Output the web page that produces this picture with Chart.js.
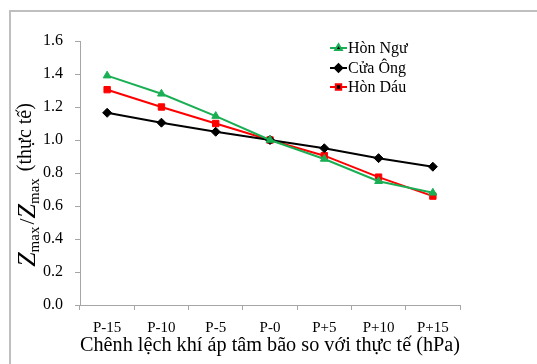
<!DOCTYPE html>
<html>
<head>
<meta charset="utf-8">
<script src="https://cdn.jsdelivr.net/npm/chart.js@4/dist/chart.umd.min.js"></script>
<style>
  html, body { margin: 0; padding: 0; background: #fff; }
  #wrap { width: 537px; height: 364px; position: relative; }
</style>
</head>
<body>
<div id="wrap"><canvas id="c" width="537" height="364"></canvas></div>
<script>
// Pressure offset scenarios (hPa relative to the observed central pressure)
const categories = ['P-15', 'P-10', 'P-5', 'P-0', 'P+5', 'P+10', 'P+15'];

// Ratio of peak surge to the observed peak surge at each station
const honNgu  = [1.39, 1.28, 1.145, 1.00, 0.885, 0.75, 0.68];
const cuaOng  = [1.165, 1.105, 1.05, 1.00, 0.95, 0.89, 0.838];
const honDau  = [1.305, 1.20, 1.10, 1.00, 0.905, 0.775, 0.66];

const seriesNames = ['Hòn Ngư', 'Cửa Ông', 'Hòn Dáu'];
const yTicks = [0, 0.2, 0.4, 0.6, 0.8, 1.0, 1.2, 1.4, 1.6];

const SERIF = "'Liberation Serif', 'Times New Roman', serif";
const AXIS_GREY = '#a6a6a6';

// Grey frame around the figure
const framePlugin = {
  id: 'frame',
  beforeDraw(chart) {
    const ctx = chart.ctx;
    ctx.save();
    ctx.fillStyle = '#fff';
    ctx.fillRect(0, 0, chart.width, chart.height);
    ctx.strokeStyle = '#bfbfbf';
    ctx.lineWidth = 2;
    ctx.beginPath();
    ctx.moveTo(10, chart.height + 5);
    ctx.lineTo(10, 11);
    ctx.lineTo(chart.width + 5, 11);
    ctx.stroke();
    ctx.restore();
  }
};

// Vertical axis title with subscripts: Z_max/Z_max (thực tế)
const yTitlePlugin = {
  id: 'yTitle',
  afterDraw(chart) {
    const ctx = chart.ctx;
    const big = 'italic 26px ' + SERIF;
    const slash = '22px ' + SERIF;
    const reg = '20px ' + SERIF;
    const sub = '15px ' + SERIF;
    const parts = [
      { t: 'Z', f: big, dy: 0, gap: 0 },
      { t: 'max', f: sub, dy: 4, gap: 2 },
      { t: '/', f: slash, dy: -1, gap: 0 },
      { t: 'Z', f: big, dy: 0, gap: 0 },
      { t: 'max', f: sub, dy: 4, gap: 2 },
      { t: ' (thực tế)', f: reg, dy: -4, gap: 0 }
    ];
    ctx.save();
    let total = 0;
    parts.forEach(p => {
      ctx.font = p.f;
      p.w = ctx.measureText(p.t).width;
      total += p.w + p.gap;
    });
    const cx = 35, cy = 185;
    ctx.translate(cx, cy);
    ctx.rotate(-Math.PI / 2);
    ctx.fillStyle = '#000';
    ctx.textBaseline = 'alphabetic';
    ctx.textAlign = 'left';
    let x = -total / 2;
    parts.forEach(p => {
      ctx.font = p.f;
      ctx.fillText(p.t, x, p.dy);
      x += p.w + p.gap;
    });
    ctx.restore();
  }
};

// Legend box inside the plot area
const legendPlugin = {
  id: 'innerLegend',
  afterDraw(chart) {
    const ctx = chart.ctx;
    const x0 = 330, x1 = 347, rows = [48, 68, 87];
    ctx.save();
    chart.data.datasets.forEach((ds, i) => {
      const y = rows[i];
      ctx.strokeStyle = ds.borderColor;
      ctx.lineWidth = 2;
      ctx.beginPath();
      ctx.moveTo(x0, y);
      ctx.lineTo(x1, y);
      ctx.stroke();
      Chart.helpers.drawPoint(ctx, {
        pointStyle: ds.pointStyle,
        radius: ds.pointRadius * 0.85,
        borderWidth: 1
      }, (x0 + x1) / 2, y);
      ctx.fillStyle = '#000';
      ctx.font = '16px ' + SERIF;
      ctx.textAlign = 'left';
      ctx.textBaseline = 'middle';
      ctx.fillText(ds.label, x1 + 1, y + 1);
    });
    ctx.restore();
  }
};

function lineSet(label, data, color, style, r) {
  return {
    label, data,
    borderColor: color,
    backgroundColor: color,
    pointBackgroundColor: color,
    pointBorderColor: color,
    borderWidth: 2,
    pointStyle: style,
    pointRadius: r,
    pointHoverRadius: r,
    pointBorderWidth: 1,
    tension: 0,
    fill: false
  };
}

new Chart(document.getElementById('c'), {
  type: 'line',
  data: {
    labels: categories,
    datasets: [
      lineSet(seriesNames[0], honNgu, '#1aaf54', 'triangle', 4.5),
      lineSet(seriesNames[1], cuaOng, '#000000', 'rectRot', 4.5),
      lineSet(seriesNames[2], honDau, '#ff0000', 'rect', 4.5)
    ]
  },
  options: {
    responsive: false,
    animation: false,
    devicePixelRatio: 1,
    layout: { padding: { top: 41, right: 77, bottom: 0, left: 0 } },
    plugins: {
      legend: { display: false },
      tooltip: { enabled: false }
    },
    scales: {
      x: {
        type: 'category',
        offset: true,
        grid: {
          offset: true,
          drawOnChartArea: false,
          drawTicks: true,
          tickLength: 5,
          color: AXIS_GREY,
          lineWidth: 1
        },
        border: { color: AXIS_GREY, width: 1 },
        ticks: {
          color: '#000',
          font: { family: SERIF, size: 15 },
          padding: 9,
          maxRotation: 0,
          autoSkip: false
        },
        title: {
          display: true,
          text: 'Chênh lệch khí áp tâm bão so với thực tế (hPa)',
          color: '#000',
          font: { family: SERIF, size: 20.5 },
          padding: { top: 0, bottom: 6 }
        },
        afterFit(s) { s.height = 59; }
      },
      y: {
        min: 0,
        max: 1.6,
        afterBuildTicks(s) { s.ticks = yTicks.map(v => ({ value: v })); },
        grid: {
          drawOnChartArea: false,
          drawTicks: true,
          tickLength: 5,
          color: AXIS_GREY,
          lineWidth: 1
        },
        border: { color: AXIS_GREY, width: 1 },
        ticks: {
          color: '#000',
          font: { family: SERIF, size: 16 },
          padding: 12,
          callback: v => Number(v).toFixed(1)
        },
        afterFit(s) { s.width = 80; }
      }
    }
  },
  plugins: [framePlugin, yTitlePlugin, legendPlugin]
});
</script>
</body>
</html>
